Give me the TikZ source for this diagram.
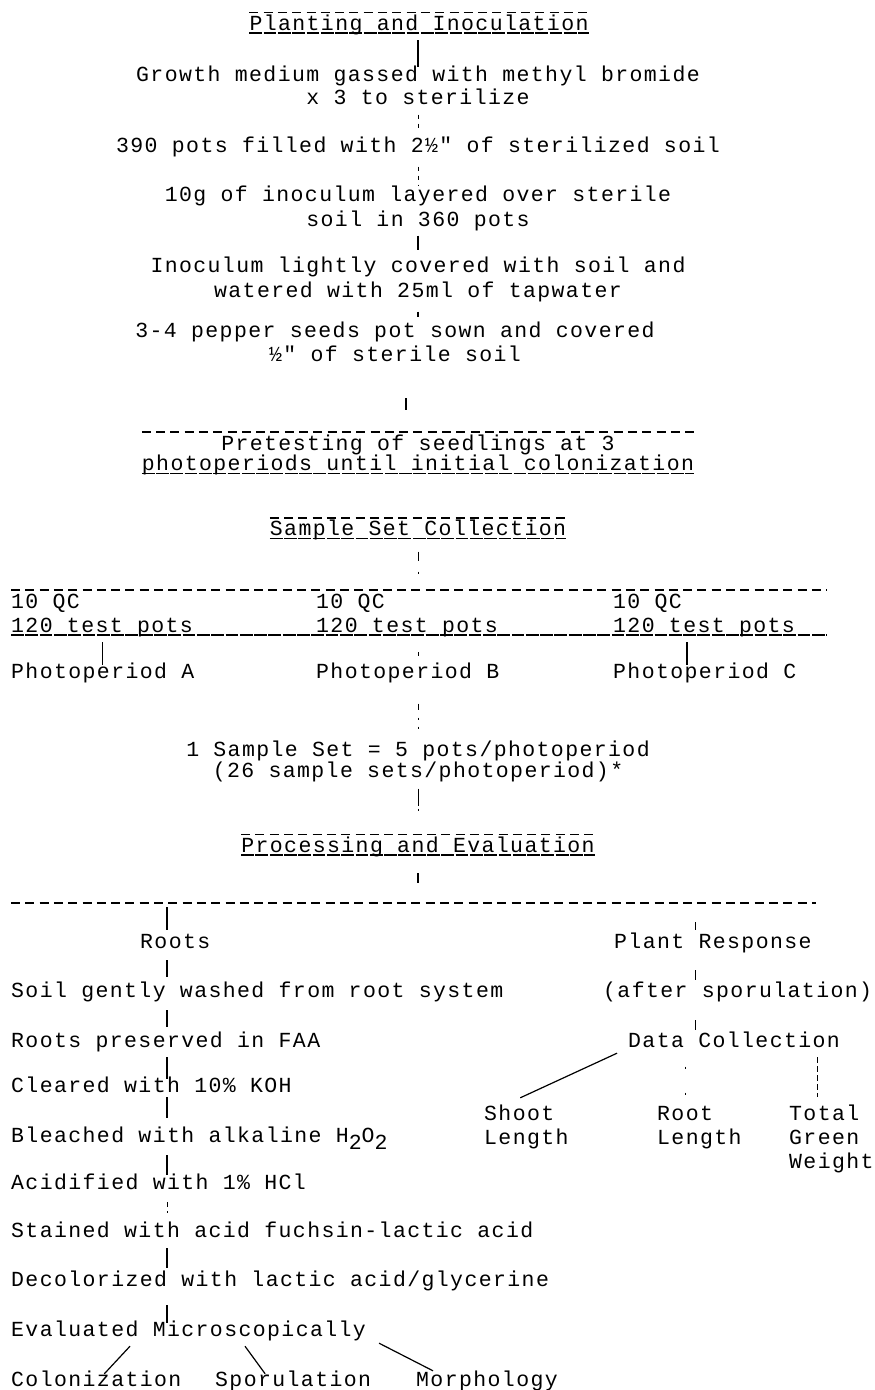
\documentclass[tikz,border=0pt]{standalone}
\usepackage{fontspec}
\newfontfamily\twfont[LetterSpace=6.5]{Liberation Mono}
\newcommand\twr{\twfont\fontsize{21.5pt}{22pt}\selectfont}
\begin{document}
\begin{tikzpicture}[x=1pt,y=-1pt,
  txt/.style={font=\twr, inner sep=0pt, text height=12pt, text depth=3pt},
  lt/.style={txt, anchor=west},
  hyph/.style={line width=1.5pt, dash pattern=on 9pt off 5.3pt},
  usc/.style={line width=1.5pt, dash pattern=on 12.8pt off 1.5pt},
  conn/.style={line width=1.2pt},
  tick/.style={line width=0.9pt}]
\useasboundingbox[fill=white] (0,0) rectangle (875,1390);
\coordinate (ax) at (418,0);
\coordinate (ax2) at (406,0);
\coordinate (rx) at (167,0);
\coordinate (px) at (695,0);

% ---- Planting and Inoculation
\node[txt] (hdr) at (419,25.5) {Planting and Inoculation};
\draw[hyph] ([yshift=5.5pt]hdr.north west) -- ([yshift=5.5pt]hdr.north east);
\draw[usc] (hdr.south west) -- (hdr.south east);
\node[txt] (g1) at (418,77) {Growth medium gassed with methyl bromide};
\node[txt] (g2) at (418,100) {x 3 to sterilize};
\node[txt] (p) at (418,148) {390 pots filled with 2½" of sterilized soil};
\node[txt] (i1) at (418,197) {10g of inoculum layered over sterile};
\node[txt] (i2) at (418,222) {soil in 360 pots};
\node[txt] (c1) at (418,268) {Inoculum lightly covered with soil and};
\node[txt] (c2) at (418,293) {watered with 25ml of tapwater};
\node[txt] (s1) at (395,333) {3-4 pepper seeds pot sown and covered};
\node[txt] (s2) at (395,357) {½" of sterile soil};

\draw[conn, shorten <=7pt, shorten >=2pt] (hdr.south -| ax) -- (g1.north -| ax);
\draw[tick, shorten <=7pt, shorten >=8pt, dash pattern=on 4pt off 5pt] (g2.south -| ax) -- (p.north -| ax);
\draw[tick, shorten <=11pt, shorten >=3pt, dash pattern=on 4pt off 5pt] (p.south -| ax) -- (i1.north -| ax);
\draw[conn, shorten <=6pt, shorten >=10pt] (i2.south -| ax) -- (c1.north -| ax);
\draw[conn, shorten <=11pt, shorten >=8pt] (c2.south -| ax) -- (s1.north -| ax);

% ---- Pretesting
\node[txt] (pt1) at (418,446) {Pretesting of seedlings at 3};
\node[txt] (pt2) at (418,466) {photoperiods until initial colonization};
\path ([yshift=6.5pt]pt1.north) coordinate (ptT);
\draw[hyph] (ptT -| pt2.west) -- (ptT -| pt2.east);
\draw[usc] (pt2.south west) -- (pt2.south east);
\draw[conn, shorten <=33.5pt, shorten >=22pt] (s2.south -| ax2) -- (ptT -| ax2);

% ---- Sample Set Collection
\node[txt] (ssc) at (418,531) {Sample Set Collection};
\draw[hyph] ([yshift=5.5pt]ssc.north west) -- ([yshift=5.5pt]ssc.north east);
\draw[usc] (ssc.south west) -- (ssc.south east);

\coordinate (rowL) at (11,590);
\coordinate (rowR) at (827,590);
\draw[hyph] (rowL) -- (rowR);
\draw[tick, shorten <=13pt, dash pattern=on 9pt off 11pt on 2pt off 40pt] (ssc.south -| ax) -- (rowL -| ax);

\node[lt] (qcA) at (11,604) {10 QC};
\node[lt] (qcB) at (316,604) {10 QC};
\node[lt] (qcC) at (613,604) {10 QC};
\node[lt] (tpA) at (11,627.5) {120 test pots};
\node[lt] (tpB) at (316,627.5) {120 test pots};
\node[lt] (tpC) at (613,627.5) {120 test pots};
\coordinate (ulL) at (11,635);
\coordinate (ulR) at (827,635);
\draw[usc] (ulL) -- (ulR);
\node[lt] (phA) at (11,674) {Photoperiod A};
\node[lt] (phB) at (316,674) {Photoperiod B};
\node[lt] (phC) at (613,674) {Photoperiod C};
\coordinate (cx) at ([xshift=74pt]phC.west);
\draw[conn, shorten <=7pt, shorten >=1pt] (tpA.south -| phA.north) -- (phA.north);
\draw[tick, shorten <=17pt, shorten >=10pt] (tpB.south -| ax) -- (phB.north -| ax);
\draw[conn, shorten <=7pt, shorten >=1pt] (tpC.south -| cx) -- (phC.north -| cx);

\node[txt] (ss1) at (418,752) {1 Sample Set = 5 pots/photoperiod};
\node[txt] (ss2) at (418,773) {(26 sample sets/photoperiod)*};
\draw[tick, shorten <=22pt, dash pattern=on 6pt off 8pt on 2pt off 7pt on 2pt off 50pt] (phB.south -| ax) -- (ss1.north -| ax);

% ---- Processing and Evaluation
\node[txt] (proc) at (418,847.5) {Processing and Evaluation};
\draw[hyph] ([yshift=5.5pt]proc.north west) -- ([yshift=5.5pt]proc.north east);
\draw[usc] (proc.south west) -- (proc.south east);
\draw[tick, shorten <=8pt, dash pattern=on 17pt off 3pt on 2pt off 100pt] (ss2.south -| ax) -- (proc.north -| ax);

\coordinate (bigL) at (11,903);
\coordinate (bigR) at (816,903);
\draw[hyph] (bigL) -- (bigR);
\draw[conn, shorten <=18pt, shorten >=20pt] (proc.south -| ax) -- (bigL -| ax);

% ---- Roots column
\node[lt] (roots) at (140,943.5) {Roots};
\node[lt] (soil) at (11,993) {Soil gently washed from root system};
\node[lt] (pres) at (11,1043) {Roots preserved in FAA};
\node[lt] (clear) at (11,1088) {Cleared with 10\% KOH};
\node[lt] (bleach) at (11,1138) {Bleached with alkaline H\raisebox{-7pt}{2}O\raisebox{-7pt}{2}};
\node[lt] (acid) at (11,1185) {Acidified with 1\% HCl};
\node[lt] (stain) at (11,1233) {Stained with acid fuchsin-lactic acid};
\node[lt] (decol) at (11,1282) {Decolorized with lactic acid/glycerine};
\node[lt] (eval) at (11,1332) {Evaluated Microscopically};
\node[lt] (colon) at (11,1382) {Colonization};
\node[lt] (spor) at (215,1382) {Sporulation};
\node[lt] (morph) at (416,1382) {Morphology};

\draw[conn, shorten <=4pt, shorten >=6pt] (bigL -| rx) -- (roots.north -| rx);
\draw[conn, shorten <=9pt, shorten >=8.5pt] (roots.south -| rx) -- (soil.north -| rx);
\draw[conn, shorten <=9.5pt, shorten >=8.5pt] (soil.south -| rx) -- (pres.north -| rx);
\draw[conn, shorten <=6.5pt, shorten >=1pt] (pres.south -| rx) -- (clear.north -| rx);
\draw[conn, shorten <=1.5pt, shorten >=12.5pt] (clear.south -| rx) -- (bleach.north -| rx);
\draw[conn, shorten <=9.5pt, shorten >=2.5pt] (bleach.south -| rx) -- (acid.north -| rx);
\draw[tick, shorten <=9.5pt, shorten >=8.5pt, dash pattern=on 5pt off 4pt on 2pt off 20pt] (acid.south -| rx) -- (stain.north -| rx);
\draw[conn, shorten <=7.5pt, shorten >=6.5pt] (stain.south -| rx) -- (decol.north -| rx);
\draw[conn, shorten <=15.5pt, shorten >=1.5pt] (decol.south -| rx) -- (eval.north -| rx);
\draw[conn] ([xshift=119pt,yshift=-6.5pt]eval.south west) -- ([xshift=8pt,yshift=0.5pt]colon.north);
\draw[conn] ([xshift=234pt,yshift=-6.5pt]eval.south west) -- ([xshift=-28pt,yshift=0.5pt]spor.north);
\draw[conn] ([xshift=13pt,yshift=-3.5pt]eval.south east) -- ([xshift=17pt,yshift=3.5pt]morph.north west);

% ---- Plant Response column
\node[lt] (plant) at (614,943.5) {Plant Response};
\node[lt] (after) at (603,993) {(after sporulation)};
\node[lt] (data) at (628,1043) {Data Collection};
\node[lt] (shoot1) at (484,1116) {Shoot};
\node[lt] (shoot2) at (484,1140) {Length};
\node[lt] (root1) at (657,1116) {Root};
\node[lt] (root2) at (657,1140) {Length};
\node[lt] (tot1) at (789,1116) {Total};
\node[lt] (tot2) at (789,1140) {Green};
\node[lt] (tot3) at (789,1164) {Weight};
\coordinate (tx) at ([xshift=-6.5pt]tot1.north);

\draw[tick, shorten <=19pt, shorten >=6pt] (bigL -| px) -- (plant.north -| px);
\draw[tick, shorten <=19pt, shorten >=5.5pt] (plant.south -| px) -- (after.north -| px);
\draw[tick, shorten <=19.5pt, shorten >=5.5pt] (after.south -| px) -- (data.north -| px);
\draw[conn] ([xshift=-11pt,yshift=-2.5pt]data.south west) -- ([xshift=1pt,yshift=10.5pt]shoot1.north);
\draw[tick, shorten <=16pt, dash pattern=on 2pt off 24pt] (data.south -| root1.north) -- (root1.north);
\draw[tick, shorten <=6.5pt, shorten >=11.5pt, dash pattern=on 6pt off 3pt] (data.south -| tx) -- (tx);
\end{tikzpicture}
\end{document}
